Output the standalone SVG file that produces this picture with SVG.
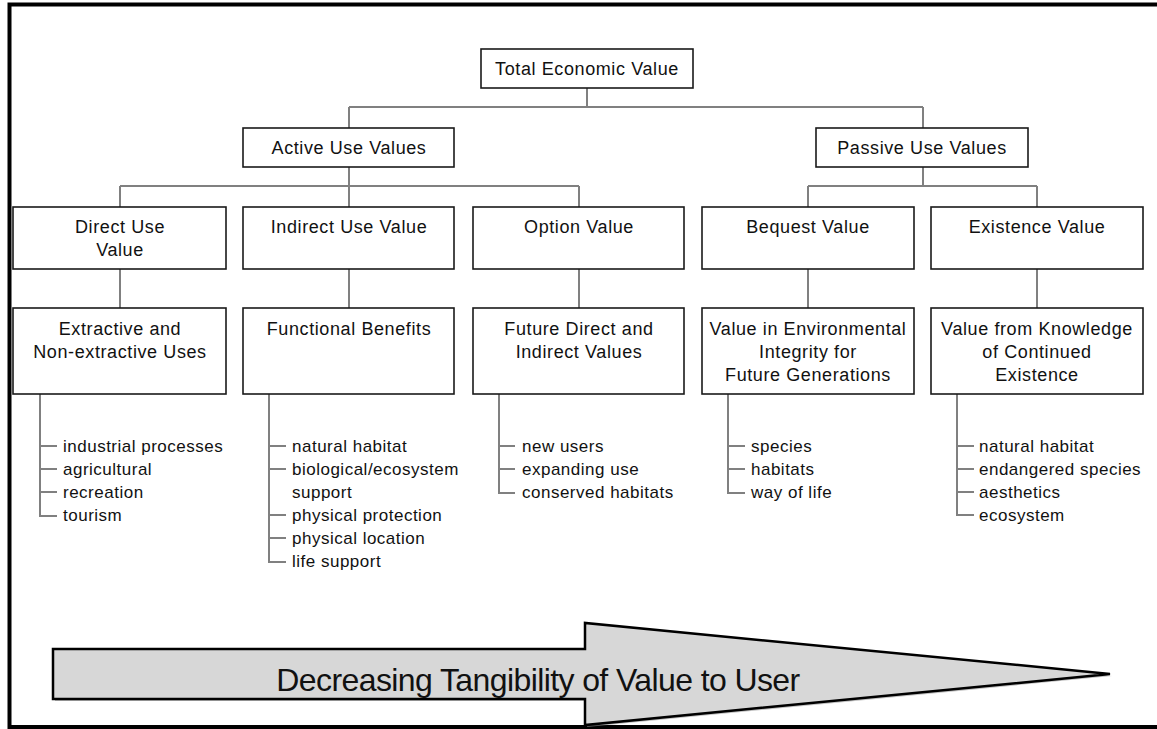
<svg xmlns="http://www.w3.org/2000/svg" width="1157" height="729" viewBox="0 0 1157 729">
<style>
.box{fill:#fff;stroke:#1a1a1a;stroke-width:1.6}
.t{font-family:"Liberation Sans",Arial,sans-serif;font-size:18px;letter-spacing:0.6px;fill:#111;text-anchor:middle}
.l{font-family:"Liberation Sans",Arial,sans-serif;font-size:17px;letter-spacing:0.5px;fill:#111}
.c{fill:none;stroke:#808080;stroke-width:2}
.big{font-family:"Liberation Sans",Arial,sans-serif;font-size:32px;letter-spacing:-0.6px;fill:#111;text-anchor:middle}
</style>
<rect width="1157" height="729" fill="#fff"/>
<rect x="9.5" y="4.5" width="1160" height="722.5" fill="none" stroke="#000" stroke-width="4"/>
<g id="connectors">
<path class="c" d="M587 88V107M349 107H923M349 107V128M923 107V128"/>
<path class="c" d="M349 167V186M120 186H579M120 186V207M349 186V207M579 186V207"/>
<path class="c" d="M923 167V186M808 186H1037M808 186V207M1037 186V207"/>
<path class="c" d="M120 269V308M349 269V308M579 269V308M808 269V308M1037 269V308"/>
<path class="c" d="M40 394V516H57M40 446H57M40 469H57M40 492H57"/>
<path class="c" d="M269 394V562H286M269 446H286M269 469H286M269 515H286M269 538H286"/>
<path class="c" d="M499 394V493H515M499 446H515M499 469H515"/>
<path class="c" d="M728 394V493H745M728 446H745M728 469H745"/>
<path class="c" d="M957 394V515H974M957 446H974M957 469H974M957 492H974"/>
</g>
<g id="total"><rect class="box" x="481" y="49" width="212" height="39"/><text class="t" x="587" y="75">Total Economic Value</text></g>
<g id="active"><rect class="box" x="243" y="128" width="211" height="39"/><text class="t" x="349" y="154">Active Use Values</text></g>
<g id="passive"><rect class="box" x="816" y="128" width="212" height="39"/><text class="t" x="922" y="154">Passive Use Values</text></g>
<g id="direct"><rect class="box" x="13" y="207" width="213" height="62"/><text class="t" x="120" y="233">Direct Use</text><text class="t" x="120" y="256">Value</text></g>
<g id="indirect"><rect class="box" x="243" y="207" width="211" height="62"/><text class="t" x="349" y="233">Indirect Use Value</text></g>
<g id="option"><rect class="box" x="473" y="207" width="211" height="62"/><text class="t" x="579" y="233">Option Value</text></g>
<g id="bequest"><rect class="box" x="702" y="207" width="212" height="62"/><text class="t" x="808" y="233">Bequest Value</text></g>
<g id="existence"><rect class="box" x="931" y="207" width="212" height="62"/><text class="t" x="1037" y="233">Existence Value</text></g>
<g id="extractive"><rect class="box" x="13" y="308" width="213" height="86"/><text class="t" x="120" y="335">Extractive and</text><text class="t" x="120" y="358">Non-extractive Uses</text>
<text class="l" x="63" y="452">industrial processes</text><text class="l" x="63" y="475">agricultural</text><text class="l" x="63" y="498">recreation</text><text class="l" x="63" y="521">tourism</text></g>
<g id="functional"><rect class="box" x="243" y="308" width="211" height="86"/><text class="t" x="349" y="335">Functional Benefits</text>
<text class="l" x="292" y="452">natural habitat</text><text class="l" x="292" y="475">biological/ecosystem</text><text class="l" x="292" y="498">support</text><text class="l" x="292" y="521">physical protection</text><text class="l" x="292" y="544">physical location</text><text class="l" x="292" y="567">life support</text></g>
<g id="future"><rect class="box" x="473" y="308" width="211" height="86"/><text class="t" x="579" y="335">Future Direct and</text><text class="t" x="579" y="358">Indirect Values</text>
<text class="l" x="522" y="452">new users</text><text class="l" x="522" y="475">expanding use</text><text class="l" x="522" y="498">conserved habitats</text></g>
<g id="integrity"><rect class="box" x="702" y="308" width="212" height="86"/><text class="t" x="808" y="335">Value in Environmental</text><text class="t" x="808" y="358">Integrity for</text><text class="t" x="808" y="381">Future Generations</text>
<text class="l" x="751" y="452">species</text><text class="l" x="751" y="475">habitats</text><text class="l" x="751" y="498">way of life</text></g>
<g id="knowledge"><rect class="box" x="931" y="308" width="212" height="86"/><text class="t" x="1037" y="335">Value from  Knowledge</text><text class="t" x="1037" y="358">of Continued</text><text class="t" x="1037" y="381">Existence</text>
<text class="l" x="979" y="452">natural habitat</text><text class="l" x="979" y="475">endangered species</text><text class="l" x="979" y="498">aesthetics</text><text class="l" x="979" y="521">ecosystem</text></g>
<g id="arrow">
<path d="M55 651H587V625L1112 676L587 727V701H55Z" fill="#9a9a9a" opacity="0.6"/>
<path d="M53 649H585V623L1110 674L585 725V699H53Z" fill="#d7d7d7" stroke="#000" stroke-width="2.5" stroke-linejoin="miter"/>
<text class="big" x="538" y="691">Decreasing Tangibility of Value to User</text>
</g>
</svg>
